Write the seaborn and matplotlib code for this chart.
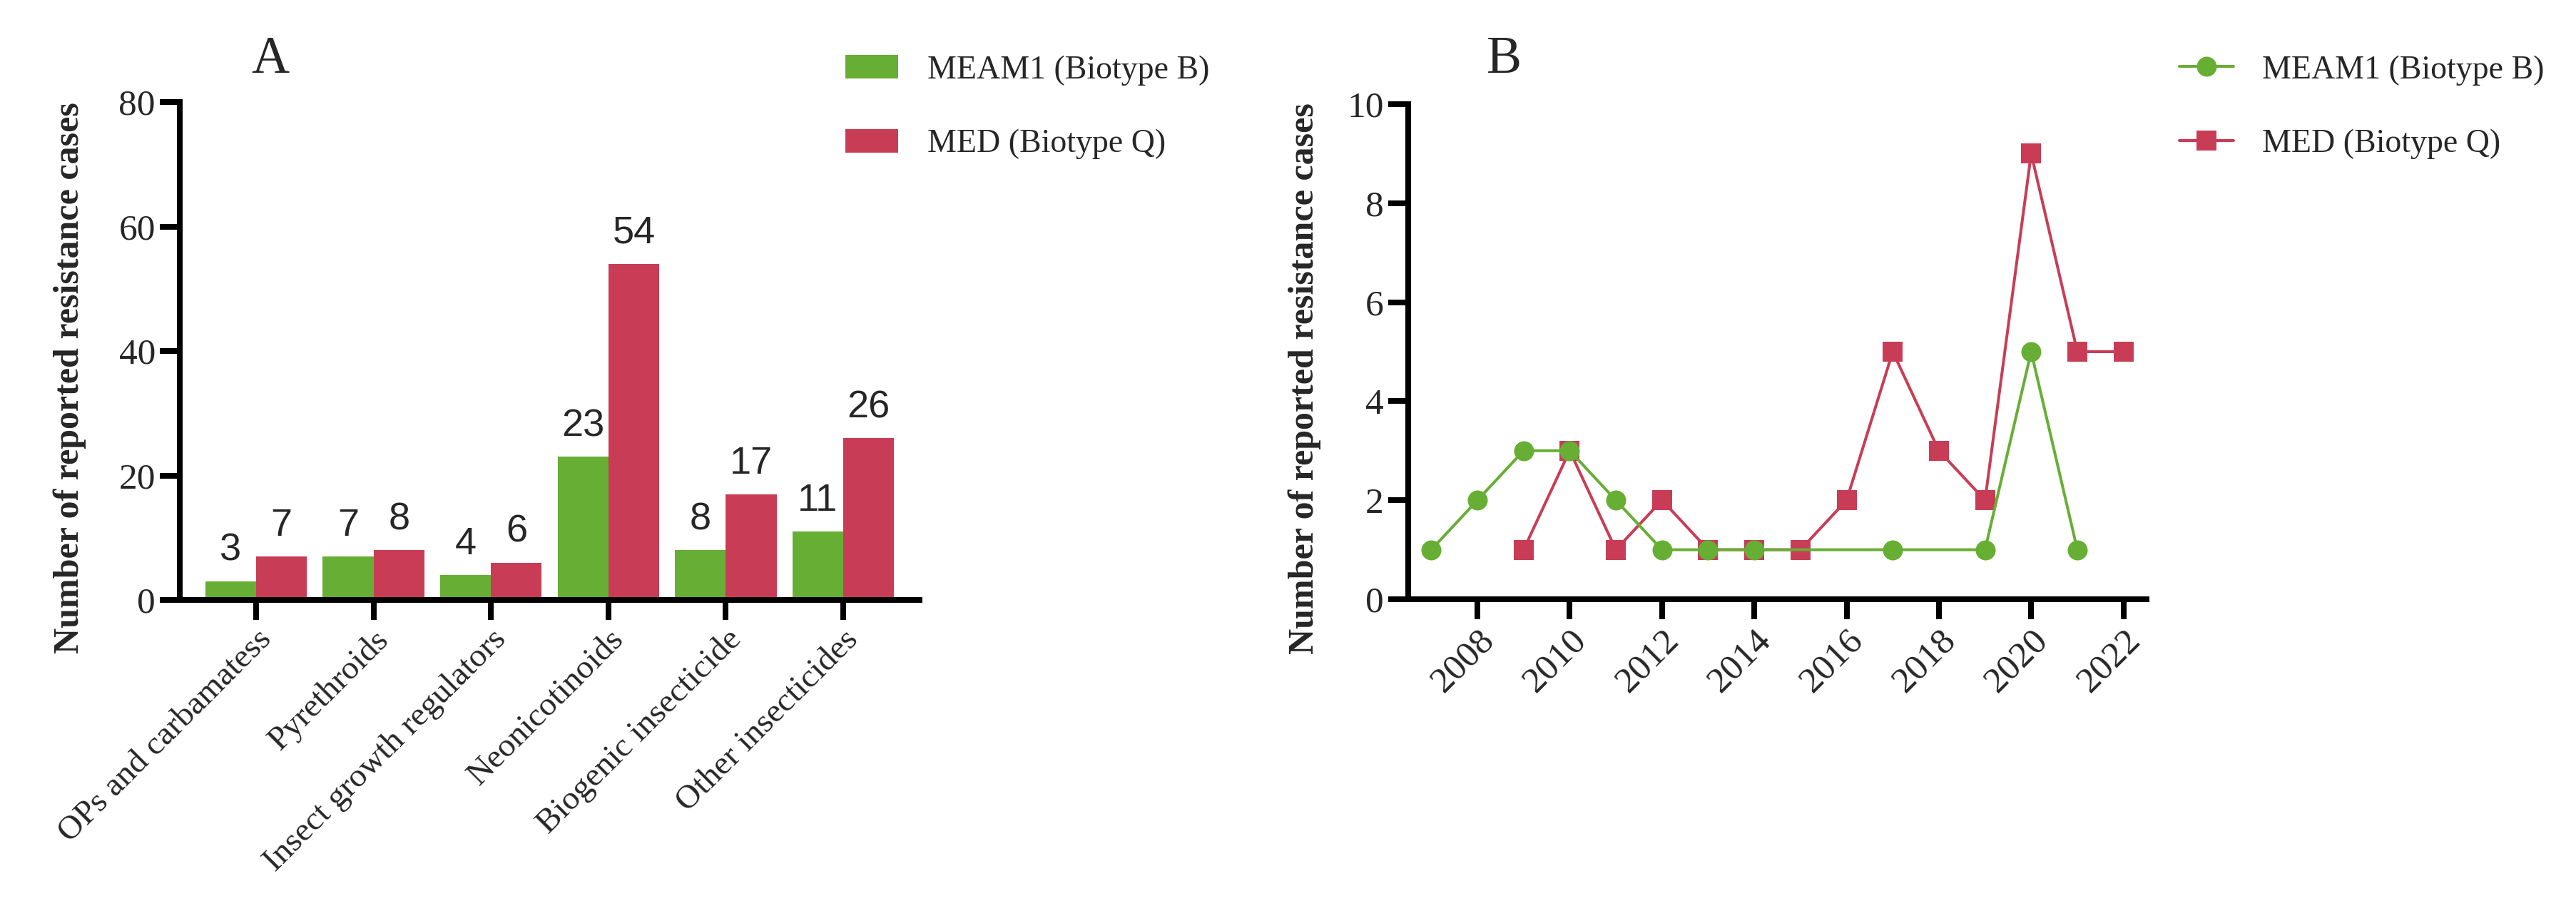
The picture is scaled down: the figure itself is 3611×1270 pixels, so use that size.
import matplotlib
matplotlib.use("Agg")
import matplotlib.pyplot as plt
import seaborn as sns
import pandas as pd
from matplotlib.lines import Line2D
from matplotlib.patches import Patch

# ---------------- data ----------------
categories = ["OPs and carbamatess", "Pyrethroids", "Insect growth regulators",
              "Neonicotinoids", "Biogenic insecticide", "Other insecticides"]
series_names = ["MEAM1 (Biotype B)", "MED (Biotype Q)"]
meam1_counts = [3, 7, 4, 23, 8, 11]
med_counts = [7, 8, 6, 54, 17, 26]

meam1_years = [2007, 2008, 2009, 2010, 2011, 2012, 2013, 2014, 2017, 2019, 2020, 2021]
meam1_cases = [1, 2, 3, 3, 2, 1, 1, 1, 1, 1, 5, 1]
med_years = [2009, 2010, 2011, 2012, 2013, 2014, 2015, 2016, 2017, 2018, 2019, 2020, 2021, 2022]
med_cases = [1, 3, 1, 2, 1, 1, 1, 2, 5, 3, 2, 9, 5, 5]
year_ticks = [2008, 2010, 2012, 2014, 2016, 2018, 2020, 2022]
bar_yticks = [0, 20, 40, 60, 80]
line_yticks = [0, 2, 4, 6, 8, 10]
ylabel_text = "Number of reported resistance cases"

GREEN = "#67AE35"
RED = "#C83D55"
SERIF = ["Liberation Serif", "DejaVu Serif"]
SANS = ["Liberation Sans", "DejaVu Sans"]

# ---------------- style ----------------
sns.set_theme(style="ticks")
plt.rcParams["font.family"] = SERIF
plt.rcParams["axes.linewidth"] = 5.8

W, H = 3611, 1270
DPI = 100
def pt(px):
    return px * 72.0 / DPI

fig = plt.figure(figsize=(W / DPI, H / DPI), dpi=DPI)
fig.patch.set_facecolor("white")

def axes_rect(l, r, t, b):
    return [l / W, 1 - b / H, (r - l) / W, (b - t) / H]

axA = fig.add_axes(axes_rect(252, 1289, 143, 841))
axB = fig.add_axes(axes_rect(1974, 3009, 146, 840))

TICK_FS = 37
CAT_FS = 34
LEG_FS = 33
for ax in (axA, axB):
    ax.set_facecolor("white")
    sns.despine(ax=ax)
    for s in ("left", "bottom"):
        ax.spines[s].set_linewidth(pt(8))
        ax.spines[s].set_color("black")
    ax.tick_params(axis="both", length=pt(28), width=pt(8), color="black",
                   labelsize=TICK_FS, direction="out", pad=pt(6))

# ---------------- panel A ----------------
df_bar = pd.DataFrame({
    "category": categories * 2,
    "series": [series_names[0]] * len(categories) + [series_names[1]] * len(categories),
    "count": meam1_counts + med_counts,
})
sns.barplot(data=df_bar, x="category", y="count", hue="series", hue_order=series_names,
            order=categories, palette=[GREEN, RED], width=0.866, saturation=1,
            linewidth=0, errorbar=None, gap=0, legend=False, ax=axA)
axA.set_xlim(-0.65, len(categories) - 0.35)
axA.set_ylim(0, 80)
axA.set_yticks(bar_yticks)
axA.set_xlabel("")
for cont in axA.containers:
    axA.bar_label(cont, fmt="%d", padding=pt(18), fontsize=39, fontfamily=SANS)
plt.setp(axA.get_xticklabels(), rotation=45, ha="right", rotation_mode="anchor",
         fontsize=CAT_FS, fontfamily=SERIF)
plt.setp(axA.get_yticklabels(), fontfamily=SERIF)
axA.set_ylabel(ylabel_text, fontsize=36, fontweight="bold", fontfamily=SERIF)
axA.yaxis.set_label_coords(-0.126, 0.446)

fs_px = LEG_FS * DPI / 72.0
LEG_TOP = 77
LEG_SPACING = 1.33
fig.legend(
    handles=[Patch(facecolor=GREEN, edgecolor="none"), Patch(facecolor=RED, edgecolor="none")],
    labels=series_names, loc="upper left", bbox_to_anchor=(1185 / W, 1 - LEG_TOP / H),
    frameon=False, prop={"family": SERIF, "size": LEG_FS},
    handlelength=74 / fs_px, handleheight=34 / fs_px,
    handletextpad=41 / fs_px, labelspacing=LEG_SPACING, borderpad=0, borderaxespad=0)

fig.text(352 / W, 1 - 102 / H, "A", fontsize=53, ha="left", va="baseline", fontfamily=SERIF)

# ---------------- panel B ----------------
sns.lineplot(x=med_years, y=med_cases, color=RED, marker="s", markersize=pt(28),
             markeredgewidth=0, linewidth=pt(4), ax=axB)
sns.lineplot(x=meam1_years, y=meam1_cases, color=GREEN, marker="o", markersize=pt(28),
             markeredgewidth=0, linewidth=pt(4), ax=axB)
axB.set_xlim(2006.5, 2022.5)
axB.set_ylim(0, 10)
axB.set_xticks(year_ticks)
axB.set_yticks(line_yticks)
plt.setp(axB.get_xticklabels(), rotation=45, ha="right", rotation_mode="anchor",
         fontfamily=SERIF)
plt.setp(axB.get_yticklabels(), fontfamily=SERIF)
axB.set_ylabel(ylabel_text, fontsize=36, fontweight="bold", fontfamily=SERIF)
axB.yaxis.set_label_coords(-0.118, 0.446)
for ln in axB.lines:
    ln.set_clip_on(False)

fig.legend(
    handles=[Line2D([], [], color=GREEN, marker="o", markersize=pt(28), markeredgewidth=0, lw=pt(4)),
             Line2D([], [], color=RED, marker="s", markersize=pt(28), markeredgewidth=0, lw=pt(4))],
    labels=series_names, loc="upper left", bbox_to_anchor=(3055 / W, 1 - LEG_TOP / H),
    frameon=False, prop={"family": SERIF, "size": LEG_FS},
    handlelength=76 / fs_px, handletextpad=40 / fs_px,
    labelspacing=LEG_SPACING, borderpad=0, borderaxespad=0)

fig.text(2084 / W, 1 - 102 / H, "B", fontsize=53, ha="left", va="baseline", fontfamily=SERIF)

fig.savefig("out.png", dpi=DPI, facecolor="white")
